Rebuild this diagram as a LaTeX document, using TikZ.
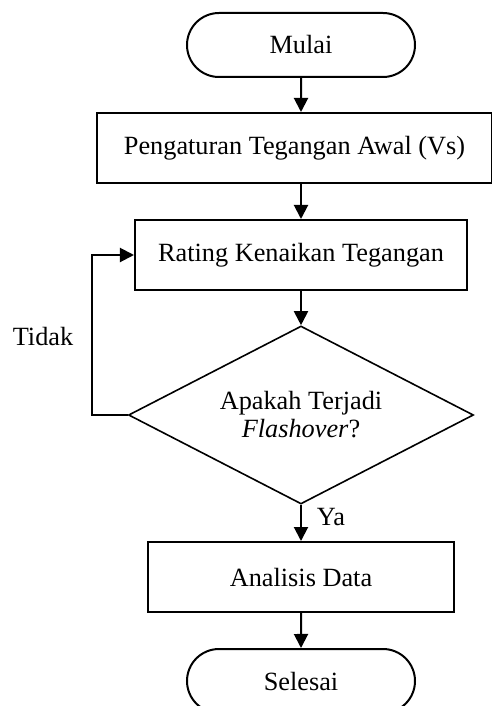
\documentclass[tikz,border=0pt]{standalone}
\usepackage{fontspec}
\setmainfont{Liberation Serif}
\usetikzlibrary{arrows.meta,shapes.geometric,shapes.misc}
\tikzset{
	terminal/.style={draw, line width=1bp, rounded rectangle, minimum width=114bp, minimum height=32bp, inner sep=0pt},
	proses/.style={draw, line width=1bp, rectangle, minimum height=35bp, inner sep=0pt},
	keputusan/.style={draw, line width=0.8bp, diamond, aspect=1.94, minimum width=172.5bp, minimum height=89bp, inner sep=0pt, align=center},
	panah/.style={line width=1bp, -{Triangle[width=7bp,length=7bp]}}
}

\begin{document}
\begin{tikzpicture}[x=0.5bp, y=-0.5bp, font=\fontsize{13.2}{14}\selectfont]
		%%%%% START %%%%%
		\useasboundingbox (0, 0) rectangle (492, 706);
		
		\node[terminal] (mulai) at (301, 45) {Mulai};
		\node[proses, minimum width=197bp] (awal) at (294.5, 148) {Pengaturan Tegangan Awal (Vs)};
		\node[proses, minimum width=166bp] (rating) at (301, 255) {Rating Kenaikan Tegangan};
		\node[keputusan] (flash) at (301, 415) {Apakah Terjadi\\\textit{Flashover}?};
		\node[proses, minimum width=153bp] (analisis) at (301, 577) {Analisis Data};
		\node[terminal] (selesai) at (301, 681) {Selesai};
		
		\node (tidak) at (43, 337) {Tidak};
		\node (ya) at (331, 517) {Ya};
		\coordinate (balik) at (92, 415);
		
		\draw[panah] (mulai) -- (mulai |- awal.north);
		\draw[panah] (mulai |- awal.south) -- (rating);
		\draw[panah] (rating) -- (flash);
		\draw[panah] (flash) -- (analisis);
		\draw[panah] (analisis) -- (selesai);
		
		\draw[panah] (flash.west) -- (balik) |- (rating.west);
		
		%%%%% END %%%%%
\end{tikzpicture}
\end{document}
